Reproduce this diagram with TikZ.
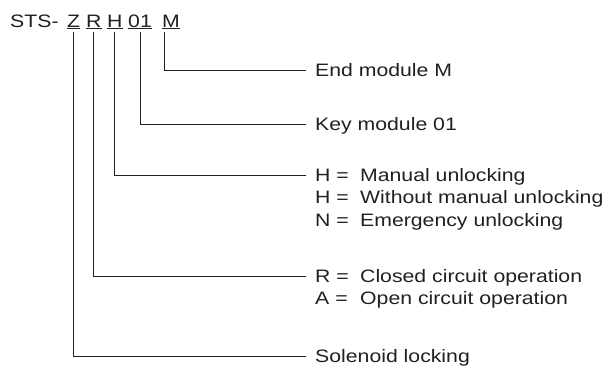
\documentclass[tikz,border=0pt]{standalone}
\usepackage{fontspec}
\setmainfont[FakeStretch=1.18]{Liberation Sans}
\usepackage{xcolor}
\definecolor{ink}{RGB}{35,31,32}
\newcommand{\bigtxt}{\fontsize{18}{22}\selectfont}
\newlength{\keyw}
\setlength{\keyw}{45pt}
\newcommand{\opt}[2]{\makebox[\keyw][l]{#1 =}#2}
\tikzset{
  code/.style={anchor=base west, inner sep=0pt, font=\bigtxt, text=ink},
  lbl/.style={anchor=west, inner sep=0pt, text height=12.9pt, text depth=0pt, font=\bigtxt, text=ink},
  lead/.style={draw=ink, line width=0.8pt},
}

\begin{document}
\begin{tikzpicture}[x=1pt, y=-1pt]
  \useasboundingbox (0,0) rectangle (614,367);

  % order code
  \node[code] (sts) at (10,27) {STS-};
  \node[code] (cz) at (67,27) {\underline{Z}};
  \node[code] (cr) at (86,27) {\underline{R}};
  \node[code] (ch) at (107,27) {\underline{H}};
  \node[code] (ck) at (128,27) {\underline{01}};
  \node[code] (cm) at (162,27) {\underline{M}};

  % meanings
  \node[lbl] (lm) at (315,70) {End module M};
  \node[lbl] (lk) at (315,124) {Key module 01};
  \node[lbl] (lh1) at (315,175) {\opt{H}{Manual unlocking}};
  \node[lbl] (lh2) at (315,197.5) {\opt{H}{Without manual unlocking}};
  \node[lbl] (lh3) at (315,220) {\opt{N}{Emergency unlocking}};
  \node[lbl] (lr1) at (315,276) {\opt{R}{Closed circuit operation}};
  \node[lbl] (lr2) at (315,298.5) {\opt{A}{Open circuit operation}};
  \node[lbl] (lz) at (315,356) {Solenoid locking};

  % leaders
  \draw[lead] ([xshift=2pt,yshift=-2.5pt]cm.south west) |- ([xshift=-9pt]lm.west);
  \draw[lead] ([yshift=-2.5pt]ck.south) |- ([xshift=-9pt]lk.west);
  \draw[lead] ([yshift=-2.5pt]ch.south) |- ([xshift=-9pt]lh1.west);
  \draw[lead] ([yshift=-2.5pt]cr.south) |- ([xshift=-9pt]lr1.west);
  \draw[lead] ([yshift=-2.5pt]cz.south) |- ([xshift=-9pt]lz.west);
\end{tikzpicture}
\end{document}
